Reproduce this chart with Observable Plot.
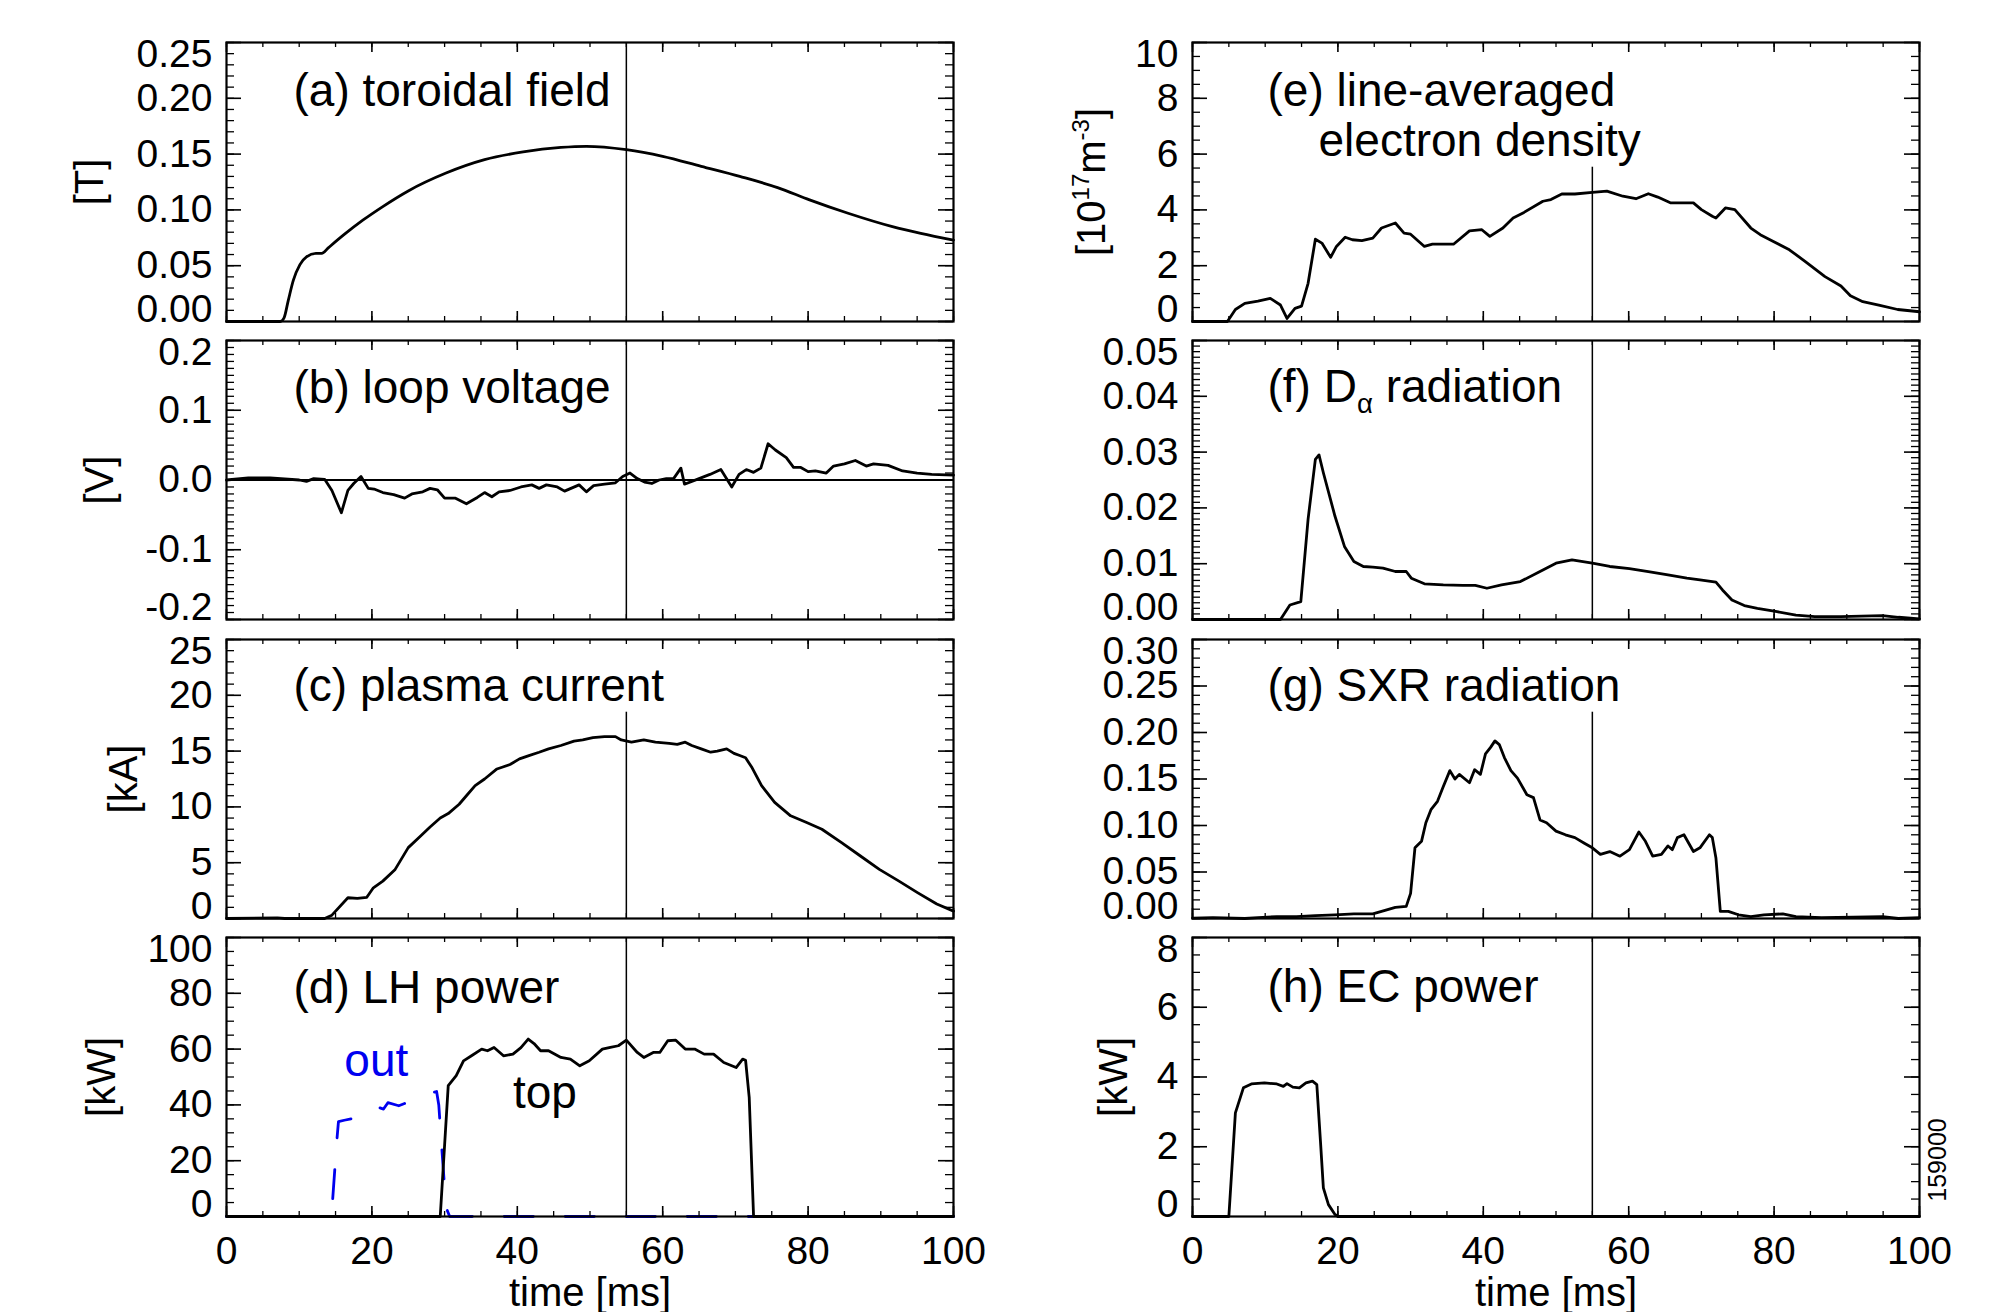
<!DOCTYPE html>
<html>
<head>
<meta charset="utf-8">
<script src="https://cdn.jsdelivr.net/npm/d3@7"></script>
<script src="https://cdn.jsdelivr.net/npm/@observablehq/plot@0.6"></script>
<style>
html, body { margin: 0; padding: 0; background: #fff; overflow: hidden; }
#fig { position: relative; width: 1993px; height: 1312px; background: #fff; }
#fig svg { position: absolute; }
</style>
</head>
<body>
<div id="fig"></div>
<script>
// ---------------- data (time in ms, value) ----------------
const markerTime = 55;
const timeTicks = [0, 20, 40, 60, 80, 100];

const toroidalField = [[0,0],[7.4,0],[7.9,0.003],[8.5,0.019],[9.2,0.037],[10.1,0.051],[11.0,0.058],[12.3,0.061],[13.1,0.061],[14.0,0.066],[16.2,0.078],[18.8,0.091],[21.5,0.103],[25.0,0.117],[30.2,0.133],[35.5,0.145],[40.8,0.152],[46.0,0.156],[49.5,0.157],[55.0,0.154],[60.0,0.148],[65.3,0.139],[70.6,0.130],[75.8,0.120],[80.2,0.109],[85.5,0.097],[91.6,0.085],[95.5,0.079],[100,0.073]];

const loopVoltage = [[0,0.000],[3,0.003],[6,0.003],[10,0.000],[11,-0.002],[12,0.002],[13.5,0.001],[14.5,-0.015],[15.8,-0.047],[16.7,-0.015],[17.5,-0.005],[18.5,0.005],[19.5,-0.012],[20.3,-0.013],[21.5,-0.018],[23,-0.021],[24.5,-0.026],[25.5,-0.020],[27,-0.017],[28,-0.012],[29,-0.014],[30,-0.026],[31.5,-0.026],[33,-0.034],[34.5,-0.025],[35.5,-0.018],[36.5,-0.024],[37.5,-0.017],[39,-0.015],[40.5,-0.010],[42,-0.007],[43,-0.012],[44,-0.007],[45.5,-0.010],[46.5,-0.016],[48.5,-0.007],[49.5,-0.017],[50.5,-0.008],[52,-0.006],[53.5,-0.004],[54.5,0.005],[55.5,0.010],[56.5,0.002],[57.5,-0.003],[58.5,-0.005],[59.5,0.000],[60.5,0.002],[61.5,0.002],[62.5,0.017],[63,-0.006],[65,0.002],[66.5,0.008],[68,0.015],[69.5,-0.010],[70.5,0.008],[71.5,0.015],[72.5,0.011],[73.5,0.017],[74.5,0.052],[75.5,0.043],[77,0.032],[78,0.018],[79,0.018],[80,0.012],[81,0.013],[82.5,0.010],[83.5,0.020],[85,0.023],[86.5,0.028],[88,0.020],[89,0.023],[91,0.021],[93,0.013],[95,0.010],[97,0.008],[100,0.007]];

const plasmaCurrent = [[0,0],[7,0.05],[8,0],[13.5,0],[14.5,0.3],[16.7,1.86],[18,1.8],[19.3,1.9],[20.2,2.75],[21.5,3.35],[23.2,4.4],[25,6.35],[26.7,7.4],[28,8.2],[29.4,9.0],[30.5,9.4],[32,10.24],[33,11.0],[34.2,11.9],[35.5,12.5],[37.2,13.4],[39,13.8],[40.3,14.3],[41.6,14.6],[43,14.9],[44.3,15.2],[46,15.5],[47.8,15.9],[49,16.0],[50.4,16.2],[52,16.3],[53.5,16.3],[54.3,16.0],[55.7,15.8],[57.4,16.0],[59,15.8],[60.9,15.7],[62,15.6],[63.1,15.8],[64,15.5],[65.3,15.2],[66.6,14.9],[67.5,15.0],[68.8,15.2],[69.8,14.8],[70.6,14.6],[71.4,14.4],[72.3,13.5],[73.6,11.9],[75.4,10.4],[77.6,9.2],[79.8,8.6],[81.9,8.0],[84.6,6.8],[87.2,5.6],[89.8,4.4],[92.5,3.35],[95.1,2.3],[97.7,1.3],[100,0.66]];

const lhPowerTop = [[0,0],[29.4,0],[30.5,46.9],[31.6,50.5],[32.6,55.8],[33.7,57.6],[35.1,60.0],[35.9,59.4],[36.8,60.6],[38.1,57.6],[39.4,58.2],[40.5,60.5],[41.5,63.6],[42.3,62.0],[43.2,59.4],[44.3,59.4],[46,57.0],[47.3,56.4],[48.6,54.0],[49.9,55.8],[51.7,60.0],[52.8,60.6],[53.9,61.2],[55,63.2],[56.5,58.8],[57.4,57.0],[58.7,58.8],[59.6,58.8],[60.7,63.0],[61.8,63.2],[63.1,60.0],[64.4,60.0],[65.7,58.2],[67,58.2],[68.4,55.2],[70.1,53.4],[71,56.4],[71.4,56.0],[71.9,42.7],[72.5,0],[100,0]];

const lhPowerOut = [[0,0],[14.3,0],[14.6,6],[15.2,28],[15.4,34],[16.2,34.5],[18,35.5],[20.4,37.3],[21,39],[21.6,38.5],[22.2,40.8],[23.7,39.7],[25.5,41.5],[27.3,43.6],[28.9,44.8],[29.2,40],[29.6,25],[30.2,3.2],[30.7,0],[100,0]];

const lhNotes = [{text: "out", t: 20.6, v: 55.5}, {text: "top", t: 43.8, v: 44.2}];

const electronDensity = [[0,0],[4.8,0],[5.9,0.43],[7.2,0.65],[9,0.73],[10.7,0.83],[12.1,0.59],[13,0.11],[14.1,0.47],[15,0.55],[15.9,1.37],[16.9,2.95],[17.8,2.81],[19,2.30],[19.8,2.69],[21,3.02],[22,2.93],[23.3,2.90],[24.8,2.99],[26,3.35],[27.9,3.53],[29.1,3.17],[30,3.13],[31.9,2.69],[33,2.77],[35.9,2.77],[38.1,3.25],[39.8,3.29],[40.9,3.05],[42.7,3.35],[44.1,3.71],[45.6,3.91],[48.2,4.31],[49.3,4.37],[50.8,4.57],[52.6,4.57],[55,4.63],[57,4.67],[59.2,4.49],[61,4.40],[62.7,4.58],[64,4.46],[65.8,4.25],[68.9,4.25],[70,4.01],[71.5,3.77],[72,3.71],[73.3,4.07],[74.6,4.01],[76.8,3.35],[78.1,3.11],[79.9,2.87],[82.1,2.57],[84.3,2.15],[87,1.61],[89.2,1.27],[90.5,0.92],[92.2,0.71],[94.4,0.59],[97,0.43],[100,0.35]];

const dAlpha = [[0,0],[12.1,0],[13.4,0.0026],[14.9,0.0032],[15.9,0.018],[16.9,0.0287],[17.4,0.0295],[18,0.0263],[19.6,0.0185],[20.9,0.0131],[22.2,0.0104],[23.5,0.0095],[24.8,0.0094],[26.2,0.0092],[27.9,0.0086],[29.4,0.0086],[30.1,0.0074],[31.9,0.0064],[34.5,0.0062],[37.2,0.0061],[38.9,0.0061],[40.5,0.0056],[42.5,0.0062],[45.1,0.0068],[47.8,0.0086],[50,0.0101],[52.2,0.0107],[55,0.0101],[57.4,0.0095],[60.1,0.0091],[62.7,0.0086],[65.4,0.0080],[68,0.0074],[69.8,0.0071],[72,0.0067],[72.9,0.0053],[74.2,0.0035],[75.9,0.0025],[77.7,0.0020],[80.4,0.0014],[83,0.0008],[85.6,0.0005],[89.2,0.0005],[92,0.0006],[94.9,0.0007],[97.1,0.0004],[100,0.0001]];

const sxr = [[0,0.0003],[2.8,0.001],[7.2,0],[9,0.001],[11.6,0.002],[14.3,0.002],[16.9,0.003],[19.6,0.004],[22.2,0.005],[24.8,0.005],[26.6,0.009],[27.9,0.012],[29.4,0.013],[30,0.027],[30.6,0.076],[31.5,0.083],[32.1,0.103],[32.8,0.117],[33.7,0.126],[34.5,0.142],[35.4,0.159],[36.1,0.150],[36.7,0.155],[38.1,0.146],[38.8,0.160],[39.6,0.155],[40.3,0.177],[41,0.184],[41.6,0.191],[42.2,0.187],[42.9,0.173],[43.8,0.159],[44.7,0.151],[46,0.133],[46.9,0.130],[47.8,0.106],[48.7,0.103],[50,0.094],[51.3,0.090],[52.6,0.087],[53.9,0.081],[55,0.076],[56.1,0.069],[57.4,0.072],[58.8,0.067],[60.1,0.074],[61.4,0.093],[62.3,0.083],[63.3,0.067],[64.5,0.069],[65.4,0.078],[66,0.074],[66.7,0.087],[67.6,0.090],[68.9,0.072],[69.8,0.076],[71.1,0.090],[71.5,0.087],[72,0.065],[72.6,0.0076],[73.7,0.0076],[75.1,0.004],[76.8,0.002],[78.6,0.004],[81.2,0.005],[83,0.002],[86.5,0.001],[90.9,0.0015],[94.9,0.002],[97.1,0],[100,0.001]];

const ecPower = [[0,0],[5,0],[5.9,2.97],[7,3.69],[8.1,3.80],[9.9,3.83],[11.6,3.80],[12.5,3.73],[13,3.81],[13.8,3.71],[14.7,3.69],[15.6,3.83],[16.5,3.88],[17.1,3.78],[17.6,2.16],[18,0.82],[18.7,0.34],[19.6,0.06],[20,0],[100,0]];

const shotNumber = "159000";

// tick values
const ticksA = [0, 0.05, 0.10, 0.15, 0.20, 0.25];
const ticksB = [-0.2, -0.1, 0.0, 0.1, 0.2];
const ticksC = [0, 5, 10, 15, 20, 25];
const ticksD = [0, 20, 40, 60, 80, 100];
const ticksE = [0, 2, 4, 6, 8, 10];
const ticksF = [0, 0.01, 0.02, 0.03, 0.04, 0.05];
const ticksG = [0, 0.05, 0.10, 0.15, 0.20, 0.25, 0.30];
const ticksH = [0, 2, 4, 6, 8];

// ---------------- layout ----------------
const FONT = "'Liberation Sans', Arial, Helvetica, sans-serif";
const FW = 727, FH = 279;
const COL_X = [226, 1192];
const ROW_Y = [42, 340, 639, 937];
const SVG_LEFT = [0, 990];
const SVG_W = [990, 1003];
const MT = 4;
const TICK_FS = 39, LABEL_FS = 46, YLAB_FS = 40, XTITLE_FS = 40;
const BLUE = "#0000f0";

const f2 = d => d.toFixed(2);
const f1 = d => d.toFixed(1);
const f0 = d => String(d);

const panels = [
  {col: 0, row: 0, domain: [0, 0.25], major: ticksA, minor: 0.01, fmt: f2, ylabel: "[T]", ylabelDx: -136,
   labels: [["(a) toroidal field", 67, 49]], series: [{data: toroidalField, curve: "monotone-x"}]},
  {col: 0, row: 1, domain: [-0.2, 0.2], major: ticksB, minor: 0.01, fmt: f1, ylabel: "[V]", ylabelDx: -126, zeroLine: true,
   labels: [["(b) loop voltage", 67, 48]], series: [{data: loopVoltage}]},
  {col: 0, row: 2, domain: [0, 25], major: ticksC, minor: 1, fmt: f0, ylabel: "[kA]", ylabelDx: -102,
   labels: [["(c) plasma current", 67, 47]], series: [{data: plasmaCurrent}]},
  {col: 0, row: 3, domain: [0, 100], major: ticksD, minor: 5, fmt: f0, ylabel: "[kW]", ylabelDx: -124,
   labels: [["(d) LH power", 67, 50.5]], series: [{data: lhPowerOut, color: BLUE, dash: "29,32"}, {data: lhPowerTop}], notes: true},
  {col: 1, row: 0, domain: [0, 10], major: ticksE, minor: 0.5, fmt: f0, ylabel: "[10^{17}m^{-3}]", ylabelDx: -100,
   labels: [["(e) line-averaged", 75, 49], ["electron density", 126, 99]], series: [{data: electronDensity}]},
  {col: 1, row: 1, domain: [0, 0.05], major: ticksF, minor: 0.001, fmt: f2, ylabel: null,
   labels: [["(f) D_{α} radiation", 75, 47]], series: [{data: dAlpha}]},
  {col: 1, row: 2, domain: [0, 0.30], major: ticksG, minor: 0.01, fmt: f2, ylabel: null,
   labels: [["(g) SXR radiation", 75, 47]], series: [{data: sxr}]},
  {col: 1, row: 3, domain: [0, 8], major: ticksH, minor: 0.5, fmt: f0, ylabel: "[kW]", ylabelDx: -78,
   labels: [["(h) EC power", 75, 50]], series: [{data: ecPower}], shot: true}
];

function buildPanel(p) {
  const bottom = p.row === 3;
  const ml = COL_X[p.col] - SVG_LEFT[p.col];
  const width = SVG_W[p.col];
  const mr = width - ml - FW;
  const mb = bottom ? 1312 - (ROW_Y[p.row] + FH) : 4;
  const height = MT + FH + mb;
  const yMinor = d3.range(p.domain[0], p.domain[1] + p.minor / 2, p.minor);
  const xMinor = d3.range(0, 100 + 1, 5);
  const axisOpts = {tickSize: 0, tickPadding: 14, tickFormat: p.fmt, fontSize: TICK_FS, label: null};
  const marks = [];
  marks.push(Plot.ruleX([markerTime], {x: d => d, stroke: "black", strokeWidth: 1.5}));
  if (p.zeroLine) marks.push(Plot.ruleY([0], {y: d => d, stroke: "black", strokeWidth: 1.8}));
  for (const [txt, dx, dy] of p.labels) {
    marks.push(Plot.text([txt], {text: d => d, frameAnchor: "top-left", dx, dy, textAnchor: "start", lineAnchor: "middle", fontSize: LABEL_FS, fill: "black"}));
  }
  for (const s of p.series) {
    marks.push(Plot.line(s.data, {x: d => d[0], y: d => d[1], stroke: s.color || "black", strokeWidth: 2.8,
      strokeDasharray: s.dash, curve: s.curve || "linear", strokeLinejoin: "round"}));
  }
  if (p.notes) {
    marks.push(Plot.text(lhNotes.filter(n => n.text === "out"), {x: "t", y: "v", text: "text", fill: BLUE, fontSize: LABEL_FS, lineAnchor: "middle"}));
    marks.push(Plot.text(lhNotes.filter(n => n.text === "top"), {x: "t", y: "v", text: "text", fill: "black", fontSize: LABEL_FS, lineAnchor: "middle"}));
  }
  marks.push(Plot.frame({stroke: "black", strokeWidth: 2.2}));
  // inward ticks on all four sides
  marks.push(Plot.tickY(p.major, {y: d => d, insetRight: FW - 15, stroke: "black", strokeWidth: 1.6}));
  marks.push(Plot.tickY(p.major, {y: d => d, insetLeft: FW - 15, stroke: "black", strokeWidth: 1.6}));
  marks.push(Plot.tickY(yMinor, {y: d => d, insetRight: FW - 8, stroke: "black", strokeWidth: 1.3}));
  marks.push(Plot.tickY(yMinor, {y: d => d, insetLeft: FW - 8, stroke: "black", strokeWidth: 1.3}));
  marks.push(Plot.tickX(timeTicks, {x: d => d, insetTop: FH - 10, stroke: "black", strokeWidth: 1.6}));
  marks.push(Plot.tickX(timeTicks, {x: d => d, insetBottom: FH - 10, stroke: "black", strokeWidth: 1.6}));
  marks.push(Plot.tickX(xMinor, {x: d => d, insetTop: FH - 5, stroke: "black", strokeWidth: 1.3}));
  marks.push(Plot.tickX(xMinor, {x: d => d, insetBottom: FH - 5, stroke: "black", strokeWidth: 1.3}));
  // y tick labels (end labels nudged inside the frame height, as in the original)
  marks.push(Plot.axisY(p.major.slice(1, -1), axisOpts));
  marks.push(Plot.axisY([p.major[p.major.length - 1]], {...axisOpts, dy: 12}));
  marks.push(Plot.axisY([p.major[0]], {...axisOpts, dy: -12}));
  if (p.ylabel) {
    marks.push(Plot.text([p.ylabel], {text: d => d, frameAnchor: "left", dx: p.ylabelDx, rotate: -90, fontSize: YLAB_FS, textAnchor: "middle", lineAnchor: "middle"}));
  }
  if (bottom) {
    marks.push(Plot.axisX(timeTicks, {tickSize: 0, tickPadding: 20, fontSize: TICK_FS, label: null}));
    marks.push(Plot.text(["time [ms]"], {text: d => d, frameAnchor: "bottom", dy: 61.5, lineAnchor: "top", fontSize: XTITLE_FS}));
  }
  if (p.shot) {
    marks.push(Plot.text([shotNumber], {text: d => d, frameAnchor: "right", dx: 18, dy: 83, rotate: -90, fontSize: 25, textAnchor: "middle", lineAnchor: "middle"}));
  }
  const svg = Plot.plot({
    width, height,
    marginLeft: ml, marginRight: mr, marginTop: MT, marginBottom: mb,
    x: {domain: [0, 100], axis: null},
    y: {domain: p.domain, axis: null},
    style: {fontFamily: FONT, fontSize: TICK_FS + "px", background: "transparent", overflow: "visible", color: "black"},
    marks
  });
  svg.style.left = SVG_LEFT[p.col] + "px";
  svg.style.top = (ROW_Y[p.row] - MT) + "px";
  return svg;
}

const NS = "http://www.w3.org/2000/svg";
function richify(el) {
  const s = el.textContent;
  if (!/[\^_]\{/.test(s)) return;
  const fs = parseFloat(getComputedStyle(el).fontSize) || 40;
  el.textContent = "";
  const re = /([\^_])\{([^}]*)\}/g;
  let last = 0, m, shift = 0;
  const add = (str, size, dyPx) => {
    const ts = document.createElementNS(NS, "tspan");
    if (size) ts.setAttribute("font-size", size);
    if (dyPx) ts.setAttribute("dy", dyPx);
    ts.textContent = str;
    el.appendChild(ts);
  };
  while ((m = re.exec(s))) {
    if (m.index > last) { add(s.slice(last, m.index), null, -shift); shift = 0; }
    const d = m[1] === "^" ? -0.42 * fs : 0.24 * fs;
    add(m[2], 0.6 * fs, d - shift);
    shift = d;
    last = re.lastIndex;
  }
  if (last < s.length) add(s.slice(last), null, -shift);
}

const fig = document.getElementById("fig");
const built = panels.map(p => { const svg = buildPanel(p); fig.appendChild(svg); return {p, svg}; });
for (const {p, svg} of built) {
  const labelTexts = p.labels.map(l => l[0]);
  const labelEls = [...svg.querySelectorAll("text")].filter(el => labelTexts.includes(el.textContent));
  svg.querySelectorAll("text").forEach(richify);
  if (!labelEls.length) continue;
  const sr = svg.getBoundingClientRect();
  // white label boxes go beneath all label texts (but above the time marker line)
  let firstG = labelEls[0];
  while (firstG.parentNode !== svg) firstG = firstG.parentNode;
  for (const el of labelEls) {
    const r = el.getBoundingClientRect();
    const rect = document.createElementNS(NS, "rect");
    rect.setAttribute("x", r.left - sr.left - 4);
    rect.setAttribute("y", MT + 1.5);
    rect.setAttribute("width", r.width + 8);
    rect.setAttribute("height", Math.max(0, r.bottom - sr.top - MT - 1));
    rect.setAttribute("fill", "white");
    svg.insertBefore(rect, firstG);
  }
}
</script>
</body>
</html>
